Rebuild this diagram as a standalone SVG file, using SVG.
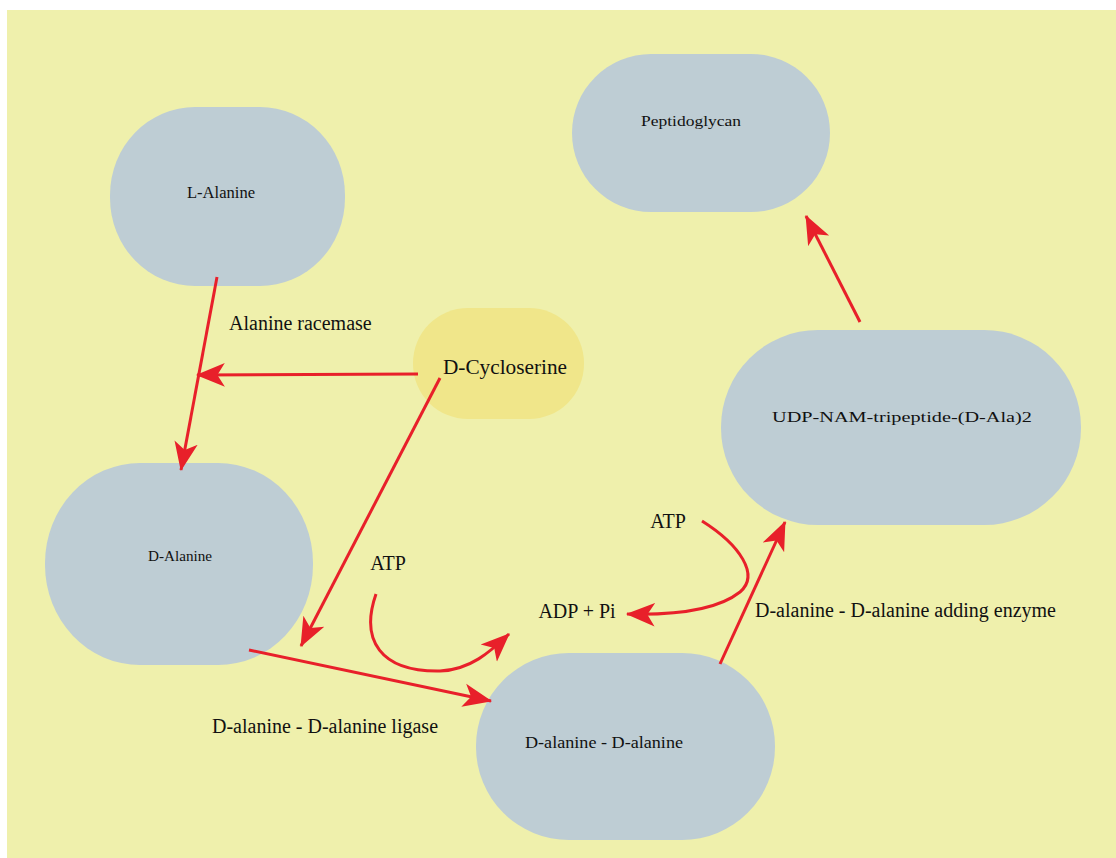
<svg xmlns="http://www.w3.org/2000/svg" width="1116" height="858" viewBox="0 0 1116 858">
<style>
.node{fill:#BECDD4}
.drug{fill:#F0E68A}
.t{font-family:"Liberation Serif",serif;fill:#111}
.lbl{font-size:20px}
.conn path{fill:none;stroke:#E8202A;stroke-width:3;marker-end:url(#ah)}
</style>
<defs>
<marker id="ah" markerUnits="userSpaceOnUse" markerWidth="30" markerHeight="26" viewBox="0 0 28 24" refX="26" refY="12" orient="auto">
<path d="M0,1 L27,12 L0,23 L7,12 z" fill="#E8202A"/>
</marker>
</defs>
<rect x="7" y="10" width="1109" height="848" fill="#EFF0AC"/>
<g id="n-lalanine"><rect class="node" x="110" y="107" width="235" height="179" rx="85" ry="88"/><text class="t" x="221" y="198" font-size="17" text-anchor="middle" textLength="68" lengthAdjust="spacingAndGlyphs">L-Alanine</text></g>
<g id="n-peptidoglycan"><rect class="node" x="572" y="54" width="258" height="158" rx="79" ry="79"/><text class="t" x="691" y="126" font-size="14" text-anchor="middle" textLength="100" lengthAdjust="spacingAndGlyphs">Peptidoglycan</text></g>
<g id="n-dcycloserine"><rect class="drug" x="413" y="308" width="171" height="111" rx="55" ry="55"/><text class="t" x="505" y="374" font-size="21" text-anchor="middle" textLength="124" lengthAdjust="spacingAndGlyphs">D-Cycloserine</text></g>
<g id="n-dalanine"><rect class="node" x="45" y="463" width="268" height="202" rx="95" ry="100"/><text class="t" x="180" y="561" font-size="14" text-anchor="middle" textLength="64" lengthAdjust="spacingAndGlyphs">D-Alanine</text></g>
<g id="n-udp"><rect class="node" x="721" y="330" width="360" height="195" rx="97" ry="97"/><text class="t" x="902" y="422" font-size="14" text-anchor="middle" textLength="260" lengthAdjust="spacingAndGlyphs">UDP-NAM-tripeptide-(D-Ala)2</text></g>
<g id="n-dada"><rect class="node" x="476" y="653" width="299" height="187" rx="93" ry="93"/><text class="t" x="604" y="748" font-size="16" text-anchor="middle" textLength="158" lengthAdjust="spacingAndGlyphs">D-alanine - D-alanine</text></g>
<g id="labels">
<text class="t lbl" x="229" y="330">Alanine racemase</text>
<text class="t lbl" x="388" y="570" text-anchor="middle">ATP</text>
<text class="t lbl" x="577" y="618" text-anchor="middle">ADP + Pi</text>
<text class="t lbl" x="668" y="528" text-anchor="middle">ATP</text>
<text class="t lbl" x="755" y="617">D-alanine - D-alanine adding enzyme</text>
<text class="t lbl" x="212" y="733">D-alanine - D-alanine ligase</text>
</g>
<g class="conn" id="connectors">
<path d="M217,277 L181,470"/>
<path d="M418,374 L197,375"/>
<path d="M440,378 L301,646"/>
<path d="M249,650 L491,701"/>
<path d="M376,594 C360,640 380,672 440,671 C470,670 490,652 509,634"/>
<path d="M702,521 C740,545 760,575 740,592 C715,612 665,615 627,614"/>
<path d="M720,664 L785,522"/>
<path d="M860,322 L806,216"/>
</g>
</svg>
